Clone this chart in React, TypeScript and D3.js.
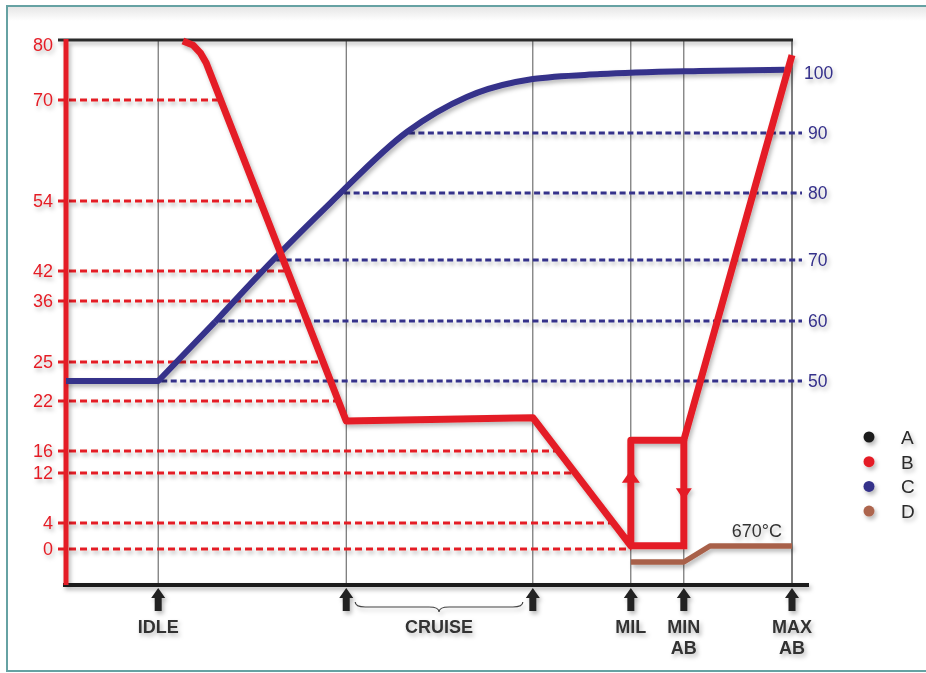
import * as d3 from "d3";

const W = 926;
const H = 673;

// left (red) axis ticks, drawn on a deliberately uneven schematic scale
const leftTicks = [0, 4, 12, 16, 22, 25, 36, 42, 54, 70, 80];
// right (blue) axis ticks
const rightTicks = [50, 60, 70, 80, 90, 100];

// throttle stops along the x axis (percent of travel)
const stops = [12.7, 38.6, 64.3, 77.8, 85.1, 100];
const stopLabels = [["IDLE"], null, null, ["MIL"], ["MIN", "AB"], ["MAX", "AB"]];
const cruiseLabel = "CRUISE";

// series B (red, left axis)
const seriesB: [number, number][] = [
  [16.1, 80],
  [17.5, 79.3],
  [18.5, 78.0],
  [19.3, 76.3],
  [38.6, 19.6],
  [64.3, 20.0],
  [77.8, 0.5],
  [77.8, 17.3],
  [85.1, 17.3],
  [100, 77.6],
];
const seriesBReturn: [number, number][] = [
  [85.1, 17.3],
  [85.1, 0.5],
  [77.8, 0.5],
];

// series C (blue, right axis)
const seriesCStart: [number, number][] = [
  [0, 50],
  [12.7, 50],
  [20.5, 59.8],
];
const seriesCCurve: [number, number][] = [
  [20.5, 59.8],
  [28.8, 70.3],
  [36.4, 78.5],
  [47.0, 90.2],
  [55.2, 95.8],
  [64.3, 98.7],
  [73.6, 99.5],
  [87.3, 100],
  [99, 100.2],
];

// series D (brown, exhaust temperature)
const seriesD: [number, number][] = [
  [77.8, 640],
  [85.1, 640],
  [88.7, 670],
  [100, 670],
];
const tempLabel = "670°C";

const legendKeys = ["A", "B", "C", "D"];
const legendColors = ["#1c1c1c", "#e41e26", "#35308a", "#ad654e"];

const RED = "#e41e26";
const BLUE = "#35308a";
const BROWN = "#a8614a";
const FONT = "'Liberation Sans', Arial, sans-serif";

const x = d3.scaleLinear().domain([0, 100]).range([66, 792]);
const yL = d3
  .scaleLinear()
  .domain(leftTicks)
  .range([549, 523, 473, 451, 401, 362, 301, 271, 201, 100, 41]);
const yR = d3
  .scaleLinear()
  .domain(rightTicks)
  .range([381, 321, 260, 193, 133, 71]);
const yT = d3.scaleLinear().domain([640, 670]).range([562, 546]);

const TOP = 40;
const BOTTOM = 585;

// first x (px) where a path crosses a value, walking in order
const crossing = (
  pts: [number, number][],
  v: number,
  ys: d3.ScaleLinear<number, number>,
  rising: boolean
) => {
  for (let i = 0; i < pts.length - 1; i++) {
    const [a, b] = [pts[i], pts[i + 1]];
    const hit = rising ? a[1] <= v && v < b[1] : a[1] >= v && v > b[1];
    if (hit) {
      const t = (ys(v) - ys(a[1])) / (ys(b[1]) - ys(a[1]));
      return x(a[0]) + t * (x(b[0]) - x(a[0]));
    }
  }
  return null;
};

const App = () => {
  const lineL = d3
    .line<[number, number]>()
    .x((d) => x(d[0]))
    .y((d) => yL(d[1]));
  const lineRCurve = d3
    .line<[number, number]>()
    .x((d) => x(d[0]))
    .y((d) => yR(d[1]))
    .curve(d3.curveMonotoneX);
  const lineRStraight = d3
    .line<[number, number]>()
    .x((d) => x(d[0]))
    .y((d) => yR(d[1]));
  const lineT = d3
    .line<[number, number]>()
    .x((d) => x(d[0]))
    .y((d) => yT(d[1]));

  const mainDescent = seriesB.slice(0, 7);
  const blueAll = [...seriesCStart, ...seriesCCurve.slice(1)];

  const milX = x(stops[3]);
  const minAbX = x(stops[4]);
  const loopBottom = yL(0.5);
  const loopTop = yL(17.3);
  const upTip = loopTop + (loopBottom - loopTop) * 0.28;
  const downTip = loopTop + (loopBottom - loopTop) * 0.57;

  const arrow = (cx: number) =>
    `M${cx},${BOTTOM + 3} L${cx + 7},${BOTTOM + 13} L${cx + 3.5},${BOTTOM + 13} L${cx + 3.5},${BOTTOM + 26} L${cx - 3.5},${BOTTOM + 26} L${cx - 3.5},${BOTTOM + 13} L${cx - 7},${BOTTOM + 13} Z`;

  const bx1 = x(stops[1]) + 9;
  const bx2 = x(stops[2]) - 10;
  const bm = (bx1 + bx2) / 2;
  const by = BOTTOM + 17;
  const brace = `M${bx1},${by} Q${bx1},${by + 5} ${bx1 + 10},${by + 5} L${bm - 10},${by + 5} Q${bm},${by + 5} ${bm},${by + 10} Q${bm},${by + 5} ${bm + 10},${by + 5} L${bx2 - 10},${by + 5} Q${bx2},${by + 5} ${bx2},${by}`;

  return (
    <svg
      width={W}
      height={H}
      style={{ position: "absolute", left: 0, top: 0, background: "#fff" }}
      fontFamily={FONT}
    >
      <defs>
        <filter id="sh" x="-10%" y="-10%" width="120%" height="130%">
          <feDropShadow dx="2" dy="3" stdDeviation="2" floodColor="#000" floodOpacity="0.28" />
        </filter>
        <linearGradient id="topShade" x1="0" y1="0" x2="0" y2="1">
          <stop offset="0" stopColor="#e6e6e6" />
          <stop offset="1" stopColor="#ffffff" />
        </linearGradient>
      </defs>
      <rect x={7} y={6} width={960} height={665} fill="#fff" stroke="#66a2a3" strokeWidth={2} />
      <rect x={8} y={7} width={960} height={14} fill="url(#topShade)" />

      {/* vertical guide lines */}
      <g stroke="#555" strokeWidth={1}>
        {stops.map((s, i) => (
          <line key={i} x1={x(s)} x2={x(s)} y1={TOP} y2={BOTTOM} strokeWidth={i === 5 ? 1.5 : 1} />
        ))}
      </g>

      {/* dashed reference lines */}
      <g filter="url(#sh)">
        {leftTicks
          .filter((t) => t < 80)
          .map((t) => {
            const end = crossing(mainDescent, t, yL, false) ?? milX;
            return (
              <line
                key={t}
                x1={x(0) - 8}
                x2={end}
                y1={yL(t)}
                y2={yL(t)}
                stroke={RED}
                strokeWidth={3}
                strokeDasharray="7 4"
              />
            );
          })}
        {rightTicks
          .filter((t) => t < 100)
          .map((t) => {
            const start = crossing(blueAll, t, yR, true) ?? x(0);
            return (
              <line
                key={t}
                x1={start + 3}
                x2={x(100) + 10}
                y1={yR(t)}
                y2={yR(t)}
                stroke={BLUE}
                strokeWidth={3}
                strokeDasharray="6 3.5"
              />
            );
          })}
      </g>

      {/* frame lines */}
      <g filter="url(#sh)">
        <line x1={x(0) - 8} x2={x(100) + 1} y1={TOP} y2={TOP} stroke="#2a2a2a" strokeWidth={3} />
        <line x1={x(0) - 3} x2={809} y1={BOTTOM} y2={BOTTOM} stroke="#1e1e1e" strokeWidth={4} />
        <line x1={x(0)} x2={x(0)} y1={TOP - 1} y2={BOTTOM} stroke={RED} strokeWidth={5} />
      </g>

      {/* tick labels */}
      <g filter="url(#sh)" fontSize={18}>
        {leftTicks.map((t) => (
          <text key={t} x={x(0) - 13} y={yL(t) + (t === 80 ? 4 : 0)} dy="0.35em" textAnchor="end" fill={RED}>
            {t}
          </text>
        ))}
        {rightTicks.map((t) => (
          <text key={t} x={x(100) + (t === 100 ? 12 : 16)} y={yR(t) + (t === 100 ? 2 : 0)} dy="0.35em" fill={BLUE} fontSize={17.5}>
            {t}
          </text>
        ))}
      </g>

      {/* series */}
      <g filter="url(#sh)" fill="none" strokeLinejoin="round">
        <path d={lineRStraight(seriesCStart) ?? ""} stroke={BLUE} strokeWidth={6} />
        <path d={lineRCurve(seriesCCurve) ?? ""} stroke={BLUE} strokeWidth={6} />
        <path d={lineT(seriesD) ?? ""} stroke={BROWN} strokeWidth={5.5} />
        <path d={lineL(seriesBReturn) ?? ""} stroke={RED} strokeWidth={7} strokeLinejoin="miter" />
        <path d={lineL(seriesB) ?? ""} stroke={RED} strokeWidth={7} />
        <path
          d={`M${milX},${upTip} L${milX + 9},${upTip + 13} L${milX - 9},${upTip + 13} Z`}
          fill={RED}
        />
        <path
          d={`M${minAbX},${downTip} L${minAbX + 8},${downTip - 12} L${minAbX - 8},${downTip - 12} Z`}
          fill={RED}
        />
      </g>

      <text x={x(100) - 10} y={yT(670) - 9} textAnchor="end" fontSize={18} fill="#333" filter="url(#sh)">
        {tempLabel}
      </text>

      {/* throttle stop arrows and labels */}
      <g filter="url(#sh)">
        {stops.map((s, i) => (
          <path key={i} d={arrow(x(s))} fill="#222" />
        ))}
        <path d={brace} fill="none" stroke="#444" strokeWidth={1.2} />
        <g fontSize={18} fontWeight="bold" fill="#333" textAnchor="middle">
          {stops.map((s, i) =>
            stopLabels[i]
              ? stopLabels[i]!.map((ln, j) => (
                  <text key={`${i}-${j}`} x={x(s)} y={633 + j * 21}>
                    {ln}
                  </text>
                ))
              : null
          )}
          <text x={bm} y={633}>
            {cruiseLabel}
          </text>
        </g>
      </g>

      {/* legend */}
      <g filter="url(#sh)">
        {legendKeys.map((k, i) => (
          <g key={k} transform={`translate(869,${437 + i * 24.7})`}>
            <circle r={5.5} fill={legendColors[i]} />
            <text x={32} dy="0.36em" fontSize={19} fill="#2a2a2a">
              {k}
            </text>
          </g>
        ))}
      </g>
    </svg>
  );
};

export default App;
